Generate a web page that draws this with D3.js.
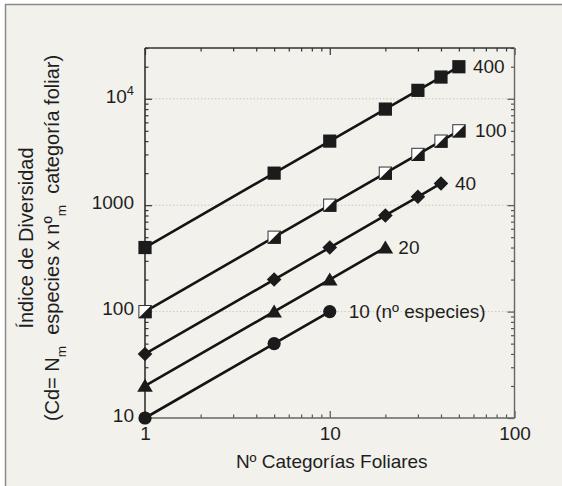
<!DOCTYPE html>
<html>
<head>
<meta charset="utf-8">
<script src="https://cdn.jsdelivr.net/npm/d3@7/dist/d3.min.js"></script>
<style>
  html, body { margin: 0; padding: 0; background: #ffffff; }
  svg { display: block; }
  text { font-family: "Liberation Sans", Arial, Helvetica, sans-serif; fill: #1e1e1e; }
</style>
</head>
<body>
<script>
// ---------------- data ----------------
const xCategorias = [1, 5, 10, 20, 30, 40, 50];
const cd400 = [400, 2000, 4000, 8000, 12000, 16000, 20000];
const cd100 = [100, 500, 1000, 2000, 3000, 4000, 5000];
const cd40  = [40, 200, 400, 800, 1200, 1600];
const cd20  = [20, 100, 200, 400];
const cd10  = [10, 50, 100];
const seriesNames = ["400", "100", "40", "20", "10 (nº especies)"];
const xTickValues = [1, 10, 100];
const xTickLabels = ["1", "10", "100"];
const yTickValues = [10, 100, 1000, 10000];
const yTickLabels = ["10", "100", "1000", "10^4"];
const gridValues = [100, 1000, 10000];
const xDomain = [1, 100];
const yDomain = [10, 30000];
const xTitle = "Nº Categorías Foliares";
const yTitle1 = "Índice de Diversidad";

// ---------------- layout / style ----------------
const W = 562, H = 486;
const plot = { left: 145, right: 514.5, top: 48, bottom: 418 };
const FONT = 19;
const YFONT = 20;
const markerKinds = ["square", "halfsquare", "diamond", "triangle", "circle"];
const labelDx = [14, 16, 14, 13, 19];

const series = [cd400, cd100, cd40, cd20, cd10].map((vals, i) => ({
  name: seriesNames[i],
  kind: markerKinds[i],
  dx: labelDx[i],
  points: vals.map((v, j) => ({ x: xCategorias[j], y: v }))
}));

const svg = d3.select("body").append("svg").attr("width", W).attr("height", H);

// frame
svg.append("rect").attr("x", 0).attr("y", 0).attr("width", W).attr("height", H).attr("fill", "#ffffff");
svg.append("rect").attr("x", 5.5).attr("y", 4.5).attr("width", W + 10).attr("height", H + 10)
  .attr("fill", "#f2f1ec").attr("stroke", "#8a8a8a").attr("stroke-width", 1.5);

const x = d3.scaleLog().domain(xDomain).range([plot.left, plot.right]);
const y = d3.scaleLog().domain(yDomain).range([plot.bottom, plot.top]);

// grid
svg.append("g").selectAll("line").data(gridValues).join("line")
  .attr("x1", plot.left).attr("x2", plot.right)
  .attr("y1", d => y(d)).attr("y2", d => y(d))
  .attr("stroke", "#c9c9c4").attr("stroke-width", 1).attr("stroke-dasharray", "1.5,2");

// axes
const xMinor = x.ticks().filter(v => !xTickValues.includes(v));
const yMinor = y.ticks().filter(v => !yTickValues.includes(v));
const MAJ = 7, MIN = 3.5;

function styleAxis(g, color) {
  g.select(".domain").remove();
  g.selectAll(".tick line").attr("stroke", color).attr("stroke-width", 1.2);
}

// bottom
const gb = svg.append("g").attr("transform", `translate(0,${plot.bottom})`);
gb.append("g").call(d3.axisBottom(x).tickValues(xMinor).tickSize(-MIN).tickFormat(""))
  .call(g => styleAxis(g, "#555"));
gb.append("g").call(d3.axisBottom(x).tickValues(xTickValues).tickSize(-MAJ).tickPadding(9)
  .tickFormat((d, i) => xTickLabels[i]))
  .call(g => styleAxis(g, "#555"))
  .call(g => g.selectAll("text").attr("font-size", FONT).attr("fill", "#1e1e1e"));
// top
const gt = svg.append("g").attr("transform", `translate(0,${plot.top})`);
gt.append("g").call(d3.axisTop(x).tickValues(xMinor).tickSize(-MIN).tickFormat("")).call(g => styleAxis(g, "#333"));
gt.append("g").call(d3.axisTop(x).tickValues(xTickValues).tickSize(-MAJ).tickFormat("")).call(g => styleAxis(g, "#333"));
// left
const gl = svg.append("g").attr("transform", `translate(${plot.left},0)`);
gl.append("g").call(d3.axisLeft(y).tickValues(yMinor).tickSize(-MIN).tickFormat("")).call(g => styleAxis(g, "#333"));
gl.append("g").call(d3.axisLeft(y).tickValues(yTickValues).tickSize(-MAJ).tickPadding(11)
  .tickFormat((d, i) => yTickLabels[i]))
  .call(g => styleAxis(g, "#333"))
  .call(g => g.selectAll("text").attr("font-size", FONT).attr("dy", "0.17em").attr("fill", "#1e1e1e")
    .each(function(d, i) {
      const lab = yTickLabels[i];
      if (lab.includes("^")) {
        const [b, e] = lab.split("^");
        const t = d3.select(this).text(null);
        t.append("tspan").text(b);
        t.append("tspan").attr("dy", "-0.55em").attr("font-size", FONT * 0.68).text(e);
      }
    }));
// right
const gr = svg.append("g").attr("transform", `translate(${plot.right},0)`);
gr.append("g").call(d3.axisRight(y).tickValues(yMinor).tickSize(-MIN).tickFormat("")).call(g => styleAxis(g, "#555"));
gr.append("g").call(d3.axisRight(y).tickValues(yTickValues).tickSize(-MAJ).tickFormat("")).call(g => styleAxis(g, "#555"));

// axis lines
svg.append("line").attr("x1", plot.left).attr("x2", plot.right).attr("y1", plot.top).attr("y2", plot.top)
  .attr("stroke", "#333").attr("stroke-width", 1.6);
svg.append("line").attr("x1", plot.left).attr("x2", plot.left).attr("y1", plot.top).attr("y2", plot.bottom)
  .attr("stroke", "#333").attr("stroke-width", 1.6);
svg.append("line").attr("x1", plot.left).attr("x2", plot.right).attr("y1", plot.bottom).attr("y2", plot.bottom)
  .attr("stroke", "#666").attr("stroke-width", 1.4);
svg.append("line").attr("x1", plot.right).attr("x2", plot.right).attr("y1", plot.top).attr("y2", plot.bottom)
  .attr("stroke", "#666").attr("stroke-width", 1.4);

// lines
const line = d3.line().x(d => x(d.x)).y(d => y(d.y));
svg.append("g").selectAll("path").data(series).join("path")
  .attr("d", d => line(d.points)).attr("fill", "none")
  .attr("stroke", "#141414").attr("stroke-width", 2.6);

// markers
const MK = "#1b1b1b";
function drawMarker(g, kind) {
  const s = 6.6;
  if (kind === "square") {
    g.append("rect").attr("x", -s).attr("y", -s).attr("width", 2 * s).attr("height", 2 * s).attr("fill", MK);
  } else if (kind === "halfsquare") {
    g.append("rect").attr("x", -s + 0.5).attr("y", -s + 0.5).attr("width", 2 * s - 1).attr("height", 2 * s - 1)
      .attr("fill", "#ffffff").attr("stroke", "#333").attr("stroke-width", 1);
    g.append("path").attr("d", `M${-s},${s}L${s},${-s}L${s},${s}Z`).attr("fill", MK);
  } else if (kind === "diamond") {
    const r = 7.3;
    g.append("path").attr("d", `M0,${-r}L${r},0L0,${r}L${-r},0Z`).attr("fill", MK);
  } else if (kind === "triangle") {
    const hw = 7.8, h = 13;
    g.append("path").attr("d", `M0,${-h * 0.55}L${hw},${h * 0.45}L${-hw},${h * 0.45}Z`).attr("fill", MK);
  } else {
    g.append("circle").attr("r", 6.6).attr("fill", MK);
  }
}
series.forEach(sr => {
  svg.append("g").selectAll("g").data(sr.points).join("g")
    .attr("transform", d => `translate(${x(d.x)},${y(d.y)})`)
    .each(function() { drawMarker(d3.select(this), sr.kind); });
});

// series labels
svg.append("g").selectAll("text").data(series).join("text")
  .attr("x", d => x(d.points[d.points.length - 1].x) + d.dx)
  .attr("y", d => y(d.points[d.points.length - 1].y))
  .attr("dy", "0.35em").attr("font-size", FONT)
  .text(d => d.name);

// x title
svg.append("text").attr("x", (plot.left + plot.right) / 2 + 2).attr("y", 468)
  .attr("text-anchor", "middle").attr("font-size", FONT).text(xTitle);

// y title
const yt = svg.append("g").attr("transform", `translate(0,238) rotate(-90)`);
yt.append("text").attr("x", 0).attr("y", 33).attr("text-anchor", "middle").attr("font-size", YFONT).text(yTitle1);
const t2 = yt.append("text").attr("x", 0).attr("y", 59).attr("text-anchor", "middle").attr("font-size", YFONT);
const yTitle2Parts = [["(Cd= N", false], ["m", true], ["  especies x nº", false], ["m", true], ["  categoría foliar)", false]];
yTitle2Parts.forEach(([txt, sub], i) => {
  const ts = t2.append("tspan").text(txt).attr("xml:space", "preserve");
  if (sub) ts.attr("font-size", YFONT * 0.68).attr("dy", "0.5em");
  else if (i > 0) ts.attr("dy", "-0.34em");
});
t2.style("white-space", "pre");
</script>
</body>
</html>
